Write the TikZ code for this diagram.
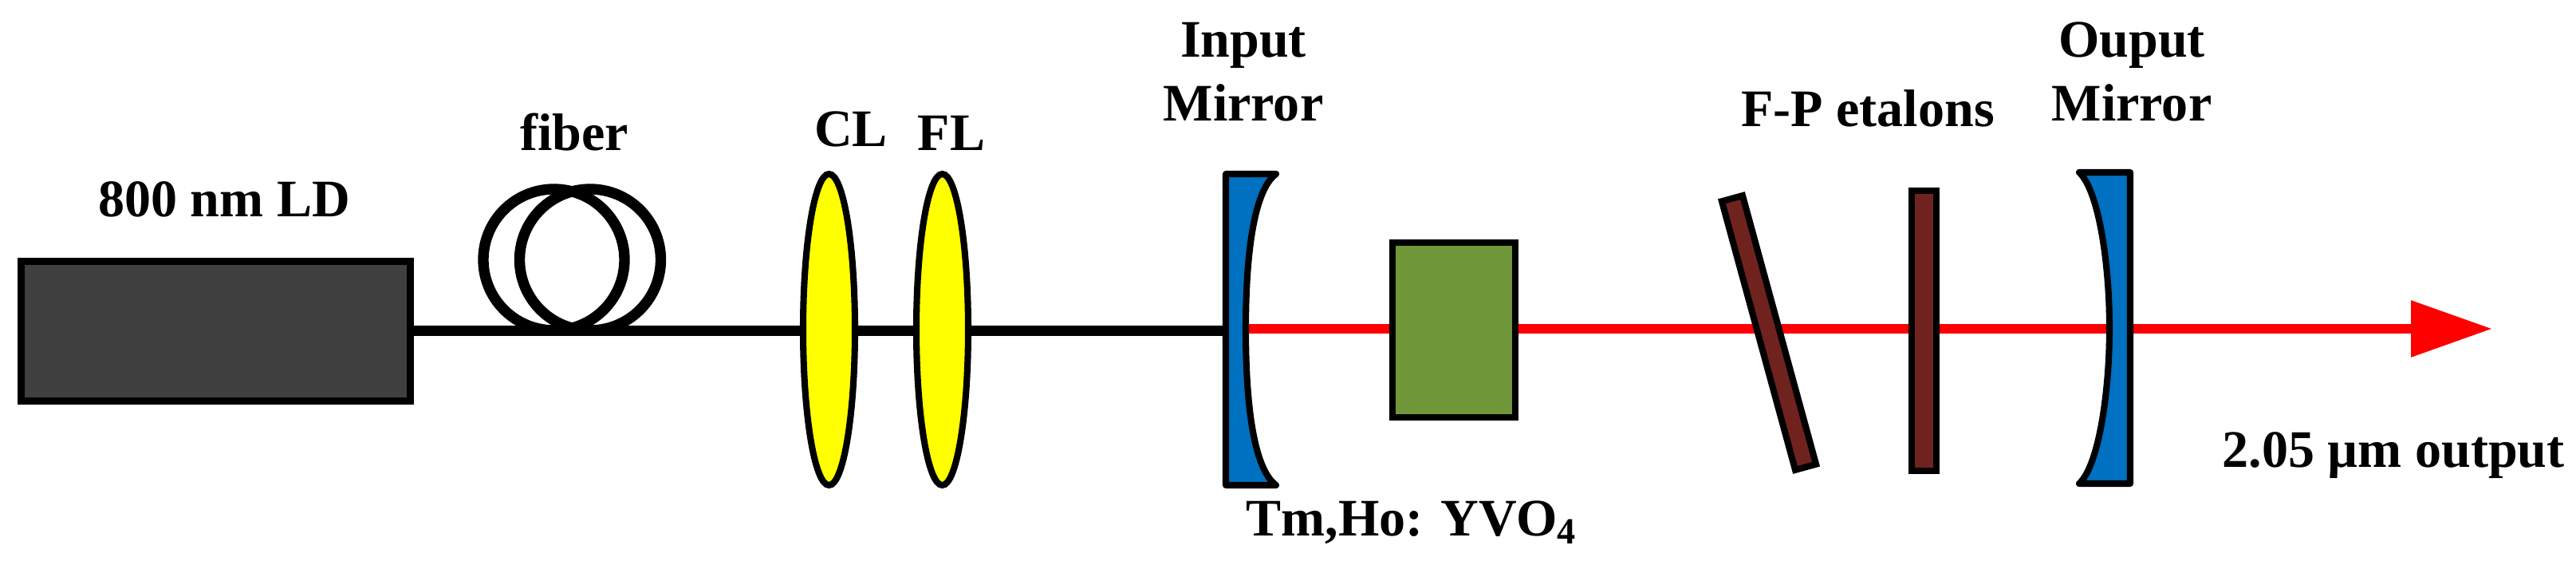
\documentclass[tikz,border=0pt]{standalone}
\usepackage{fontspec}
\setmainfont{Liberation Serif}
\usetikzlibrary{arrows.meta,shapes.geometric}
\definecolor{ldgray}{HTML}{404040}
\definecolor{lensyellow}{HTML}{FFFF00}
\definecolor{mirrorblue}{HTML}{0070C0}
\definecolor{crystalgreen}{HTML}{6F9638}
\definecolor{etalonbrown}{HTML}{70231E}
\tikzset{
    label text/.style={font=\fontsize{18.8}{22.76}\selectfont\bfseries, inner sep=0pt, anchor=base, align=center},
    part/.style={draw=black, line width=2.3pt, inner sep=0pt},
    lens/.style={part, ellipse, fill=lensyellow, minimum width=0.65cm, minimum height=3.9cm},
    mirror/.style={draw=black, line width=2.3pt, line join=round, fill=mirrorblue},
    etalon/.style={part, rectangle, fill=etalonbrown},
    fiber loop/.style={draw=black, line width=3.8pt, circle, inner sep=0pt, minimum size=1.77cm},
    pump/.style={draw=black, line width=3.8pt, line cap=round},
    beam/.style={draw=red, line width=3.6pt, -{Triangle[length=1.02cm,width=0.68cm]}}
}
\begin{document}
\begin{tikzpicture}
    \useasboundingbox (0,0) rectangle (32.3,7.13);

    \node[part, fill=ldgray, minimum width=4.88cm, minimum height=1.75cm] (ld) at (2.705,2.98) {};
    \coordinate (pumpend) at (15.37,2.985);
    \coordinate (beamstart) at (15.62,3.01);
    \coordinate (beamend) at (31.25,3.01);

    \draw[pump] (ld.east |- pumpend) -- (pumpend);
    \draw[beam] (beamstart) -- (beamend);

    \node[fiber loop] (loopa) at (6.945,3.875) {};
    \node[fiber loop] (loopb) at (7.40,3.875) {};

    \node[lens] (cl) at (10.395,3.00) {};
    \node[lens] (fl) at (11.815,3.00) {};

    \draw[mirror] (15.37,4.95) -- (16.00,4.95) .. controls (15.70,4.73) and (15.62,3.83) .. (15.62,3.00)
        .. controls (15.62,2.17) and (15.70,1.27) .. (16.00,1.05) -- (15.37,1.05) -- cycle;

    \node[part, fill=crystalgreen, minimum width=1.54cm, minimum height=2.19cm] (crystal) at (18.23,2.995) {};

    \node[etalon, minimum width=0.27cm, minimum height=3.49cm, rotate=15.3] (etalona) at (22.18,2.96) {};
    \node[etalon, minimum width=0.31cm, minimum height=3.51cm] (etalonb) at (24.125,2.985) {};

    \draw[mirror] (26.71,4.97) -- (26.07,4.97) .. controls (26.31,4.75) and (26.45,3.85) .. (26.45,3.02)
        .. controls (26.45,2.19) and (26.31,1.29) .. (26.07,1.07) -- (26.71,1.07) -- cycle;

    \node[label text] (ldtext) at (2.81,4.41) {800 nm LD};
    \node[label text] (fibertext) at (7.20,5.24) {fiber};
    \node[label text] (cltext) at (10.67,5.29) {CL};
    \node[label text] (fltext) at (11.93,5.24) {FL};
    \node[label text] (inputtext) at (15.59,6.41) {Input};
    \node[label text] (inmirrortext) at (15.59,5.61) {Mirror};
    \node[label text] (crystaltext) at (17.70,0.41) {Tm,Ho: YVO\textsubscript{4}};
    \node[label text] (etalontext) at (23.42,5.54) {F-P etalons};
    \node[label text] (ouputtext) at (26.73,6.41) {Ouput};
    \node[label text] (outmirrortext) at (26.73,5.61) {Mirror};
    \node[label text] (outputtext) at (30.01,1.27) {2.05 µm output};
\end{tikzpicture}
\end{document}
